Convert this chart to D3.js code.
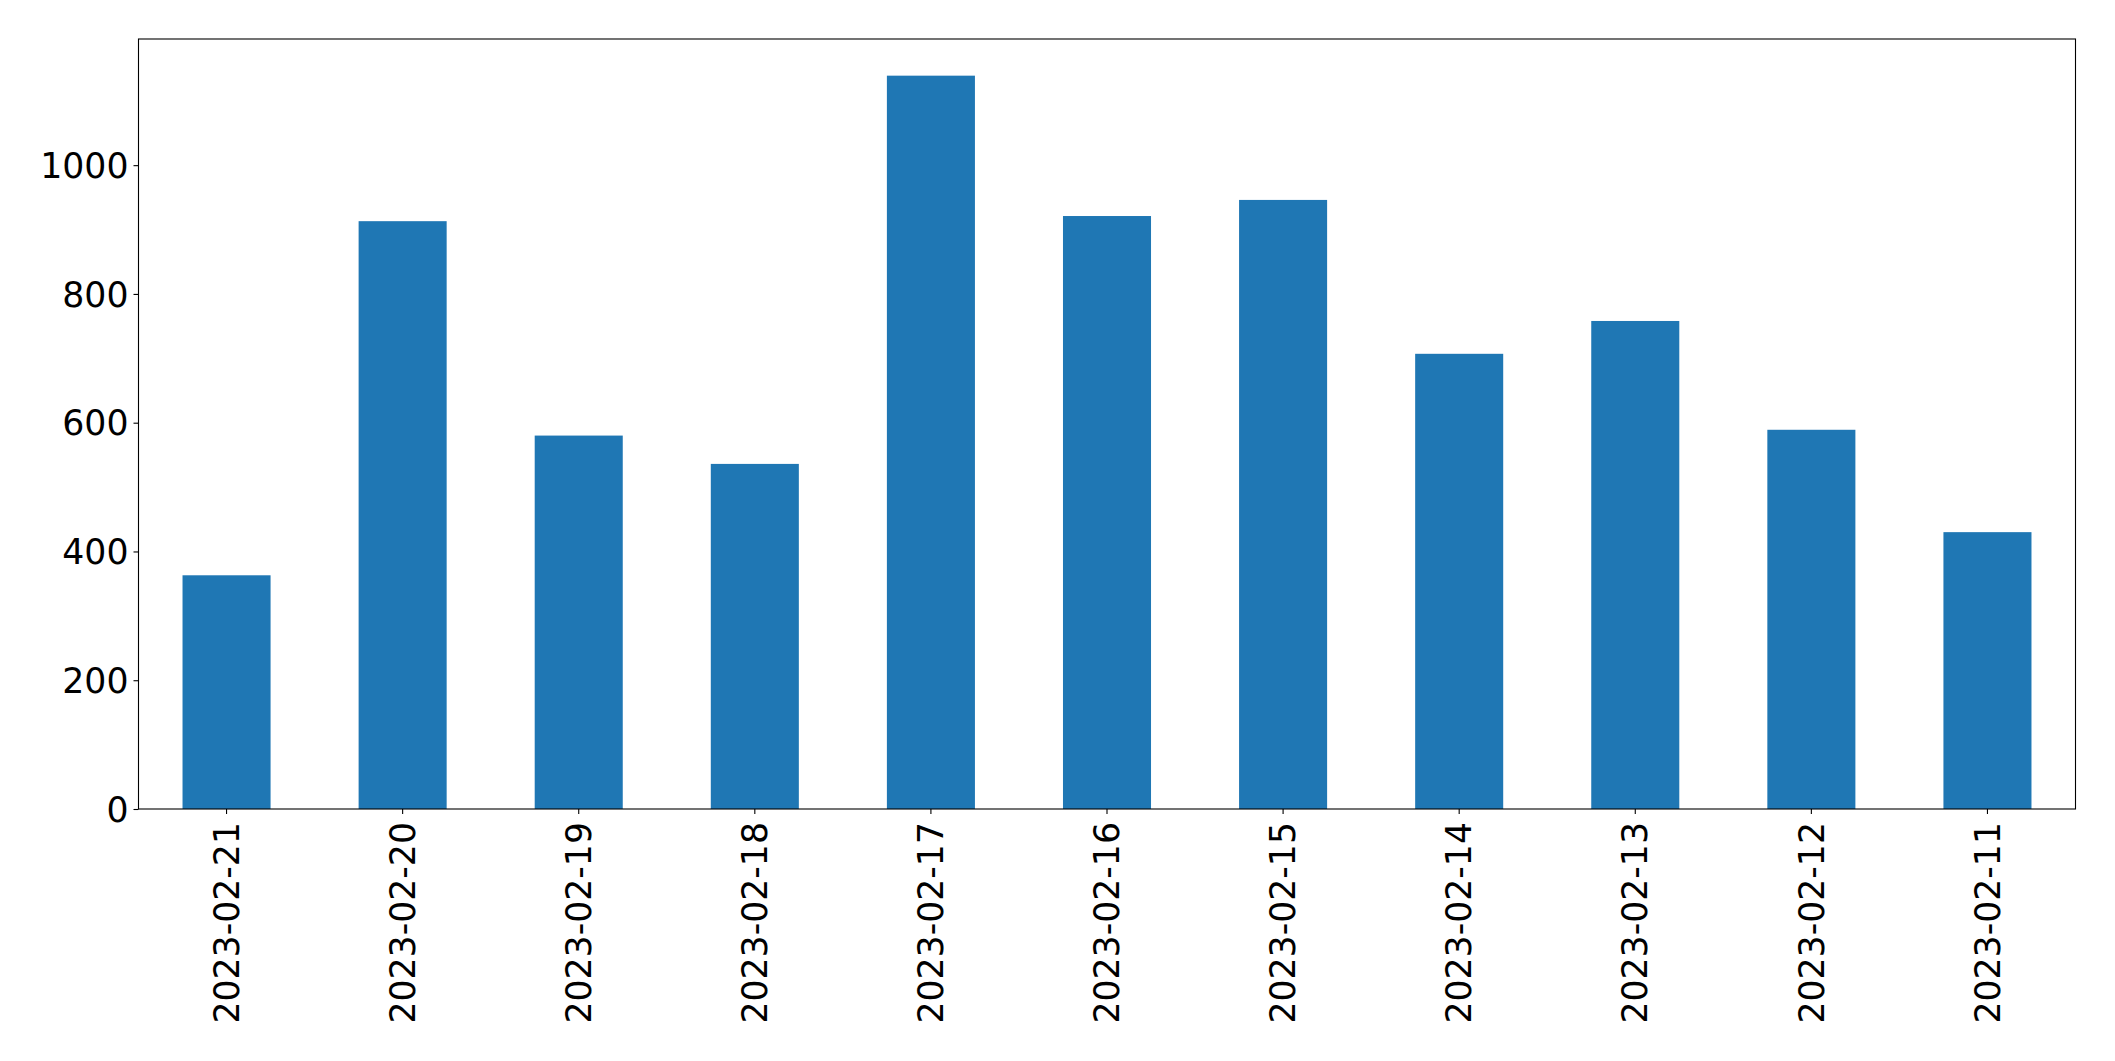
<!DOCTYPE html>
<html>
<head>
<meta charset="utf-8">
<script src="https://cdn.jsdelivr.net/npm/d3@7"></script>
<style>
  html, body { margin: 0; padding: 0; background: #fff; }
  svg { display: block; }
  text { font-family: "DejaVu Sans", sans-serif; fill: #000; }
</style>
</head>
<body>
<svg id="chart" width="2115" height="1061"></svg>
<script>
const categories = ["2023-02-21","2023-02-20","2023-02-19","2023-02-18","2023-02-17","2023-02-16","2023-02-15","2023-02-14","2023-02-13","2023-02-12","2023-02-11"];
const values = [363, 913, 580, 536, 1139, 921, 946, 707, 758, 589, 430];
const yTicks = [0, 200, 400, 600, 800, 1000];

const svg = d3.select("#chart");
const plotLeft = 138.5, plotRight = 2075.5, plotTop = 39, plotBottom = 809;

const x = d3.scaleBand().domain(categories).range([plotLeft, plotRight]).paddingInner(0.5).paddingOuter(0.25);
const y = d3.scaleLinear().domain([0, d3.max(values) * 1.05]).range([plotBottom, plotTop]);

svg.append("g").selectAll("rect").data(values).join("rect")
  .attr("x", (d, i) => x(categories[i]))
  .attr("y", d => y(d))
  .attr("width", x.bandwidth())
  .attr("height", d => y(0) - y(d))
  .attr("fill", "#1f77b4");

const fs = "34.7px";

const yAxis = svg.append("g").attr("transform", `translate(${plotLeft},0)`)
  .call(d3.axisLeft(y).tickValues(yTicks).tickSize(5).tickPadding(5).tickFormat(d3.format("d")));
yAxis.select(".domain").remove();
yAxis.selectAll("line").attr("stroke", "#000").attr("stroke-width", 1.1);
yAxis.selectAll("text").attr("font-size", fs).attr("font-family", "DejaVu Sans").attr("fill", "#000").attr("dy", "0.35em");

const xAxis = svg.append("g").attr("transform", `translate(0,${plotBottom})`)
  .call(d3.axisBottom(x).tickSize(5).tickPadding(5));
xAxis.select(".domain").remove();
xAxis.selectAll("line").attr("stroke", "#000").attr("stroke-width", 1.1);
xAxis.selectAll("text")
  .attr("font-size", fs).attr("font-family", "DejaVu Sans").attr("fill", "#000")
  .attr("text-anchor", "end")
  .attr("transform", "translate(0,13) rotate(-90)")
  .attr("x", 0).attr("y", 0).attr("dy", "0.35em");

svg.append("rect")
  .attr("x", plotLeft).attr("y", plotTop)
  .attr("width", plotRight - plotLeft).attr("height", plotBottom - plotTop)
  .attr("fill", "none").attr("stroke", "#000").attr("stroke-width", 1.1);
</script>
</body>
</html>
